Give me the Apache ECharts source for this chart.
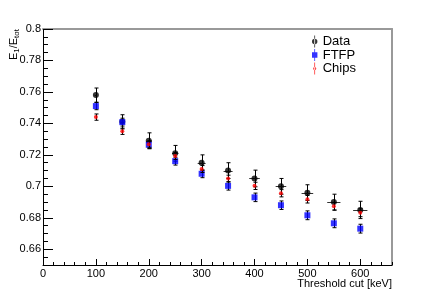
<!DOCTYPE html>
<html><head><meta charset="utf-8">
<script src="https://cdn.jsdelivr.net/npm/echarts@6/dist/echarts.min.js"></script>
<style>html,body{margin:0;padding:0;background:#fff}#c{width:436px;height:295px}</style>
</head><body><div id="c"></div>
<script>
// ---- data ----
const thresholds = [100, 150, 200, 250, 300, 350, 400, 450, 500, 550, 600];
const dataVals  = [0.758, 0.741, 0.729, 0.721, 0.715, 0.710, 0.705, 0.700, 0.696, 0.690, 0.685];
const dataErr   = [0.0045, 0.0045, 0.005, 0.005, 0.005, 0.005, 0.0053, 0.005, 0.005, 0.005, 0.0055];
const dataXErr  = [2, 3, 5, 6, 7.5, 8.5, 10, 10, 11, 12.5, 13.5];
const ftfpVals  = [0.751, 0.7408, 0.7264, 0.716, 0.708, 0.7003, 0.693, 0.688, 0.6816, 0.6765, 0.6731];
const ftfpErr   = [0.0023, 0.0025, 0.0025, 0.0025, 0.0025, 0.0027, 0.0027, 0.0027, 0.0028, 0.0028, 0.0028];
const chipsVals = [0.744, 0.735, 0.7268, 0.7193, 0.711, 0.7049, 0.7003, 0.6956, 0.6918, 0.6873, 0.6832];
const chipsErr  = [0.002, 0.002, 0.002, 0.0022, 0.0022, 0.0022, 0.0023, 0.0023, 0.0024, 0.0025, 0.0025];
const xMajorTicks = [0, 100, 200, 300, 400, 500, 600];
const yMajorTicks = [0.66, 0.68, 0.7, 0.72, 0.74, 0.76, 0.78, 0.8];
const seriesNames = ['Data', 'FTFP', 'Chips'];
const xTitle = 'Threshold cut [keV]';

const FONT = 'Liberation Sans';
const chart = echarts.init(document.getElementById('c'), null, {renderer: 'canvas'});

function errSeries(name, vals, errs, xerrs, z) {
  return {
    type: 'custom', name: name + ' err', xAxisIndex: 0, yAxisIndex: 0, z: z, silent: true,
    data: thresholds.map((t, i) => [t, vals[i], errs[i], xerrs ? xerrs[i] : 0]),
    encode: {x: 0, y: 1},
    renderItem: function (params, api) {
      const x = api.value(0), y = api.value(1), e = api.value(2), xe = api.value(3);
      const c = api.coord([x, y]);
      const top = api.coord([x, y + e]), bot = api.coord([x, y - e]);
      const cx = Math.round(c[0]) + 0.5;
      const st = {stroke: '#000', lineWidth: 1};
      const ch = [
        {type: 'line', shape: {x1: cx, y1: top[1], x2: cx, y2: bot[1]}, style: st},
        {type: 'line', shape: {x1: cx - 2, y1: top[1], x2: cx + 2, y2: top[1]}, style: st},
        {type: 'line', shape: {x1: cx - 2, y1: bot[1], x2: cx + 2, y2: bot[1]}, style: st}
      ];
      if (xe > 0) {
        const l = api.coord([x - xe, y]), r = api.coord([x + xe, y]);
        const cy = Math.round(c[1]) + 0.5;
        ch.push({type: 'line', shape: {x1: l[0], y1: cy, x2: r[0], y2: cy}, style: {stroke: '#333', lineWidth: 1}});
      }
      return {type: 'group', children: ch};
    }
  };
}
function pts(vals) { return thresholds.map((t, i) => [t, vals[i]]); }

const iconData  = 'path://M2.6,0h0.8v12h-0.8z M0.3,6a2.7,2.7 0 1,0 5.4,0a2.7,2.7 0 1,0 -5.4,0z';
const iconFtfp  = 'path://M2.6,0h0.8v12h-0.8z M0.3,3.3h5.4v5.4h-5.4z';
const iconChips = 'path://M2.6,0h0.8v12h-0.8z M1.4,6a1.6,1.6 0 1,0 3.2,0a1.6,1.6 0 1,0 -3.2,0z';

const lbl = {fontFamily: FONT, fontSize: 11, color: '#000'};

chart.setOption({
  animation: false,
  backgroundColor: '#fff',
  grid: {left: 43, right: 44, top: 29, bottom: 30, containLabel: false, outerBoundsMode: 'none'},
  legend: {
    orient: 'vertical', left: 312, top: 35, padding: 0, itemWidth: 6, itemHeight: 12, itemGap: 0.5,
    data: [
      {name: seriesNames[0], icon: iconData},
      {name: seriesNames[1], icon: iconFtfp},
      {name: seriesNames[2], icon: iconChips}
    ],
    textStyle: {fontFamily: FONT, fontSize: 13, color: '#000', lineHeight: 13}
  },
  graphic: [
    {type: 'text', right: 44, top: 278, silent: true,
     style: {text: xTitle, fontFamily: FONT, fontSize: 11, fill: '#000'}}
  ],
  xAxis: [
    {type: 'value', min: 0, max: 660, position: 'bottom',
     axisLine: {show: true, onZero: false, lineStyle: {color: '#000', width: 1}},
     axisTick: {show: true, inside: true, length: 6, customValues: xMajorTicks, lineStyle: {color: '#000'}},
     axisLabel: {customValues: xMajorTicks, margin: 3, ...lbl},
     splitLine: {show: false}},
    {type: 'value', min: 0, max: 660, interval: 20, position: 'bottom',
     axisLine: {show: false, onZero: false},
     axisTick: {show: true, inside: true, length: 3, lineStyle: {color: '#000'}},
     axisLabel: {show: false}, splitLine: {show: false}},
    {type: 'value', min: 0, max: 660, position: 'top',
     axisLine: {show: true, onZero: false, lineStyle: {color: '#999', width: 2}},
     axisTick: {show: false}, axisLabel: {show: false}, splitLine: {show: false}}
  ],
  yAxis: [
    {type: 'value', min: 0.65, max: 0.8, position: 'left',
     axisLine: {show: true, onZero: false, lineStyle: {color: '#000', width: 1}},
     axisTick: {show: true, inside: true, length: 10, customValues: yMajorTicks, lineStyle: {color: '#000'}},
     axisLabel: {customValues: yMajorTicks, margin: 2, ...lbl},
     splitLine: {show: false},
     name: '{a|E}{b|1}{a|/E}{b|tot}', nameLocation: 'end', nameGap: 0, nameRotate: 90,
     nameMoveOverlap: false,
     nameTextStyle: {align: 'right', verticalAlign: 'bottom', padding: [0, 0, 22, 0],
       rich: {
         a: {fontFamily: FONT, fontSize: 11, color: '#000', lineHeight: 14, verticalAlign: 'middle'},
         b: {fontFamily: FONT, fontSize: 8, color: '#000', lineHeight: 14, verticalAlign: 'bottom'}
       }}},
    {type: 'value', min: 0.65, max: 0.8, interval: 0.005, position: 'left',
     axisLine: {show: false, onZero: false},
     axisTick: {show: true, inside: true, length: 5, lineStyle: {color: '#000'}},
     axisLabel: {show: false}, splitLine: {show: false}},
    {type: 'value', min: 0.65, max: 0.8, position: 'right',
     axisLine: {show: true, onZero: false, lineStyle: {color: '#999', width: 2}},
     axisTick: {show: false}, axisLabel: {show: false}, splitLine: {show: false}}
  ],
  series: [
    errSeries('Data', dataVals, dataErr, dataXErr, 1),
    {type: 'scatter', name: seriesNames[0], data: pts(dataVals), symbol: 'circle', symbolSize: 6,
     itemStyle: {color: '#000'}, z: 2, silent: true},
    errSeries('FTFP', ftfpVals, ftfpErr, null, 3),
    {type: 'scatter', name: seriesNames[1], data: pts(ftfpVals), symbol: 'rect', symbolSize: 6,
     itemStyle: {color: '#0000ff'}, z: 4, silent: true},
    errSeries('Chips', chipsVals, chipsErr, null, 5),
    {type: 'scatter', name: seriesNames[2], data: pts(chipsVals), symbol: 'circle', symbolSize: 4,
     itemStyle: {color: '#ff0000'}, z: 6, silent: true}
  ]
});
</script></body></html>
